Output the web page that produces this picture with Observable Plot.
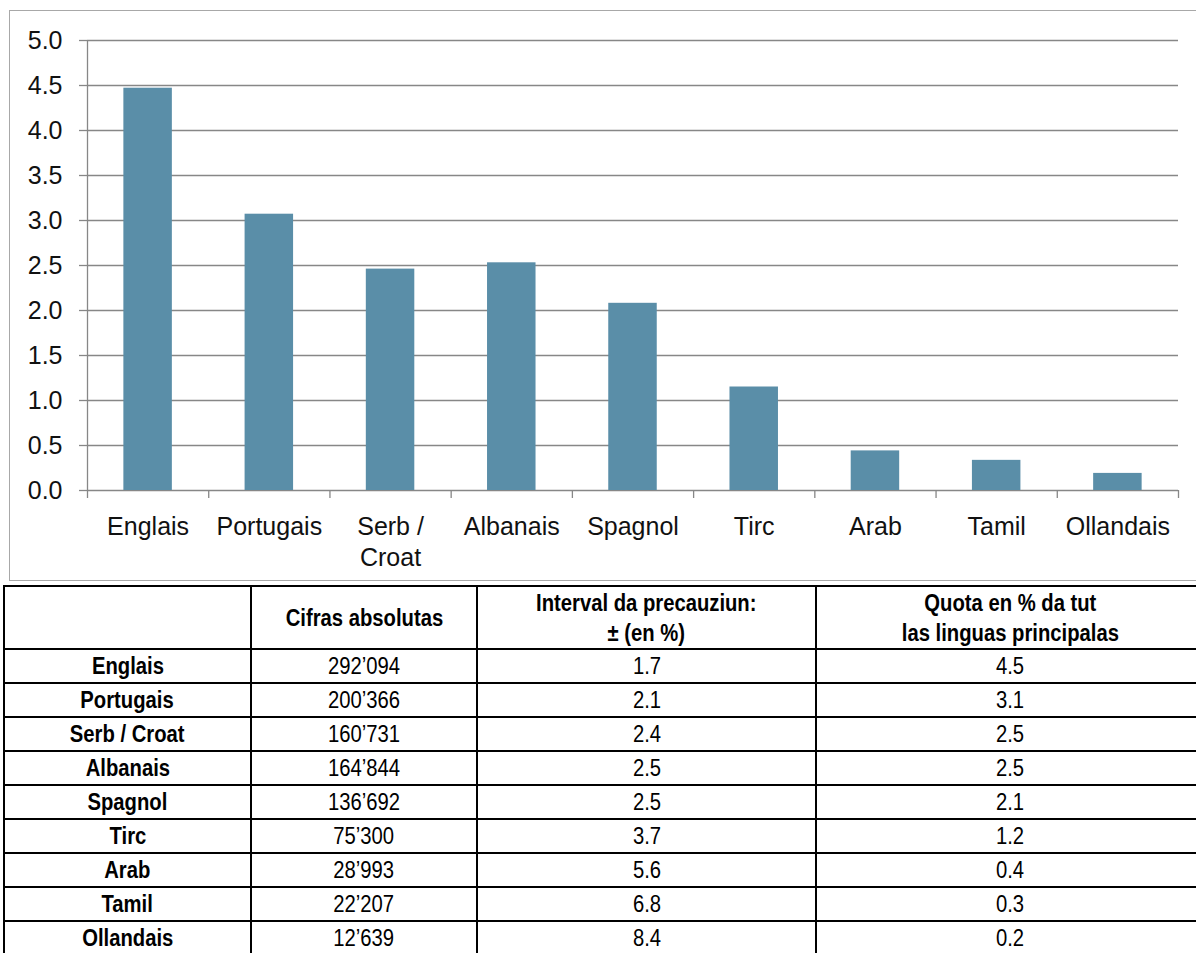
<!DOCTYPE html>
<html>
<head>
<meta charset="utf-8">
<script src="https://cdn.jsdelivr.net/npm/d3@7"></script>
<script src="https://cdn.jsdelivr.net/npm/@observablehq/plot@0.6"></script>
<style>
  html, body { margin: 0; padding: 0; background: #fff; }
  body { width: 1196px; height: 953px; position: relative; overflow: hidden; }
  #frame { position: absolute; left: 9px; top: 10px; width: 1200px; height: 571px;
           border: 1.5px solid #a8a8a8; box-sizing: border-box; }
  #chart { position: absolute; left: 0; top: 0; }
  #tbl { position: absolute; left: 3px; top: 585px; width: 1200px; border-collapse: collapse; table-layout: fixed;
         font-family: "Liberation Sans Narrow", "Arial Narrow", "Liberation Sans", Arial, sans-serif;
         font-size: 23px; color: #000; }
  #tbl td, #tbl th { border: 2px solid #000; text-align: center; vertical-align: middle; padding: 0; }
  #tbl th { font-weight: bold; height: 61px; line-height: 30px; }
  #tbl td { height: 32px; line-height: 30px; font-weight: normal; }
  #tbl td.name { font-weight: bold; }
  #tbl span { display: inline-block; transform: scaleX(0.88); transform-origin: center; white-space: nowrap; }
</style>
</head>
<body>
<div id="frame"></div>
<div id="chart"></div>
<table id="tbl"></table>
<script>
// ---- data ----
const languages = ["Englais", "Portugais", "Serb / Croat", "Albanais", "Spagnol", "Tirc", "Arab", "Tamil", "Ollandais"];
const shares = [4.47, 3.07, 2.46, 2.53, 2.08, 1.15, 0.44, 0.335, 0.19];
const absolute = [292094, 200366, 160731, 164844, 136692, 75300, 28993, 22207, 12639];
const confidence = [1.7, 2.1, 2.4, 2.5, 2.5, 3.7, 5.6, 6.8, 8.4];
const quota = [4.5, 3.1, 2.5, 2.5, 2.1, 1.2, 0.4, 0.3, 0.2];
const yTicks = [0, 0.5, 1, 1.5, 2, 2.5, 3, 3.5, 4, 4.5, 5];
const headers = ["", "Cifras absolutas", "Interval da precauziun:\n± (en %)", "Quota en % da tut\nlas linguas principalas"];
const colWidths = [247, 226, 339, 388];

// ---- chart ----
const data = languages.map((name, i) => ({name, i, share: shares[i]}));
const boundaries = languages.map((_, i) => i).concat([languages.length]);
const gray = "#878787";

const chart = Plot.plot({
  width: 1196,
  height: 582,
  marginLeft: 87,
  marginRight: 18,
  marginTop: 40,
  marginBottom: 92,
  style: {fontFamily: "'Liberation Sans', Arial, sans-serif", fontSize: "25px", color: "#111", background: "transparent", overflow: "visible"},
  x: {type: "linear", domain: [0, languages.length], axis: null, label: null},
  y: {domain: [0, 5], axis: null, label: null},
  marks: [
    Plot.gridY(yTicks, {stroke: gray, strokeOpacity: 1, strokeWidth: 1.3}),
    Plot.axisY(yTicks, {tickSize: 8, tickPadding: 17, tickFormat: d3.format(".1f"), stroke: gray, strokeWidth: 1.3, fontSize: 25, label: null}),
    Plot.rectY(data, {x1: d => d.i + 0.3, x2: d => d.i + 0.7, y: "share", fill: "#5a8ea8"}),
    Plot.ruleX([0], {y1: 0, y2: 5, stroke: gray, strokeWidth: 1.3}),
    Plot.axisX(boundaries, {tickSize: 8, tickFormat: () => "", stroke: gray, strokeWidth: 1.3, label: null}),
    Plot.text(data, {x: d => d.i + 0.5, y: 0, text: "name", lineAnchor: "top", dy: 22, lineWidth: 4.8, lineHeight: 1.24, fontSize: 25, fill: "#111"})
  ]
});
document.getElementById("chart").appendChild(chart);

// ---- table ----
const fmt = n => d3.format(",")(n).replace(/,/g, "’");
const tbl = document.getElementById("tbl");
const cg = document.createElement("colgroup");
colWidths.forEach(w => { const c = document.createElement("col"); c.style.width = w + "px"; cg.appendChild(c); });
tbl.appendChild(cg);
const addText = (cell, text) => {
  const span = document.createElement("span");
  text.split("\n").forEach((line, k) => {
    if (k > 0) span.appendChild(document.createElement("br"));
    span.appendChild(document.createTextNode(line));
  });
  cell.appendChild(span);
};
const hr = document.createElement("tr");
headers.forEach(h => {
  const th = document.createElement("th");
  addText(th, h);
  hr.appendChild(th);
});
tbl.appendChild(hr);
languages.forEach((name, i) => {
  const tr = document.createElement("tr");
  const cells = [name, fmt(absolute[i]), confidence[i].toFixed(1), quota[i].toFixed(1)];
  cells.forEach((v, j) => {
    const td = document.createElement("td");
    addText(td, v);
    if (j === 0) td.className = "name";
    tr.appendChild(td);
  });
  tbl.appendChild(tr);
});
</script>
</body>
</html>
